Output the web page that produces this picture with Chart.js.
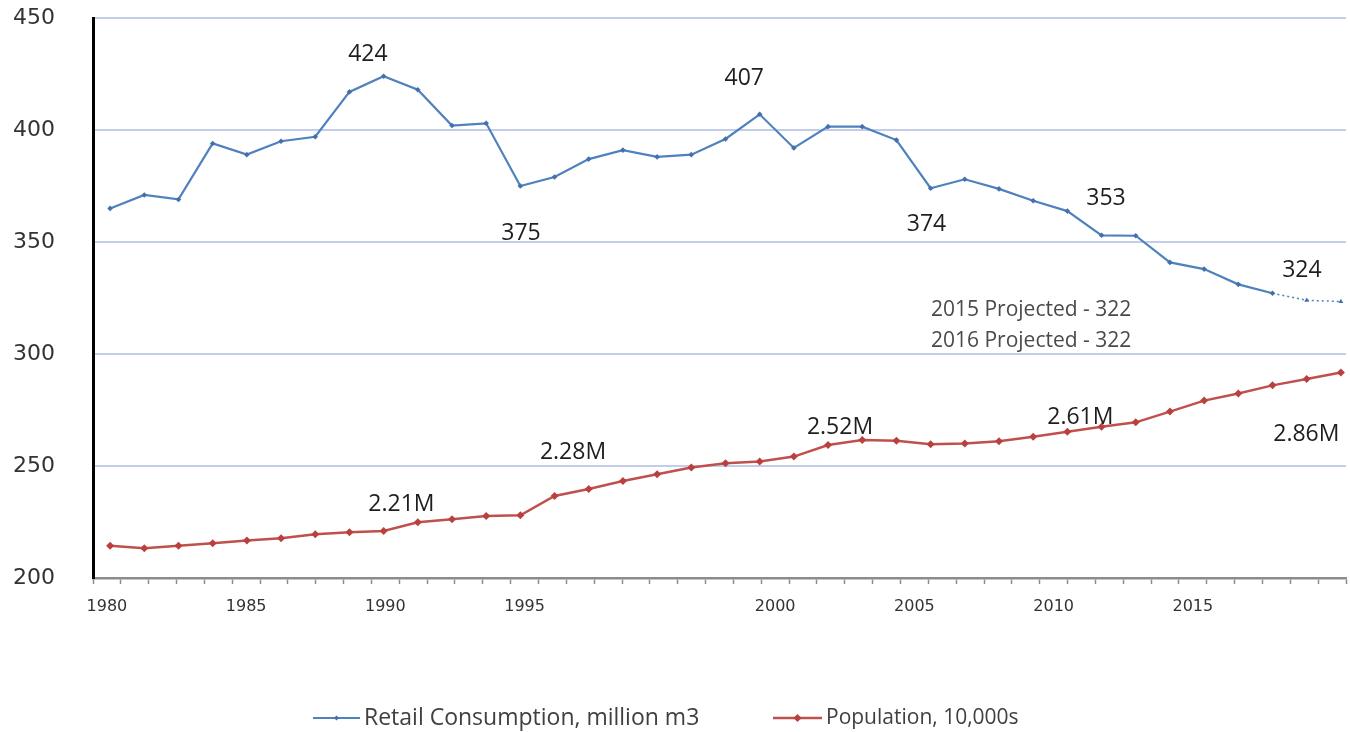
<!DOCTYPE html>
<html>
<head>
<meta charset="utf-8">
<title>Retail Consumption and Population, 1980-2016</title>
<script src="https://cdn.jsdelivr.net/npm/chart.js@4.4.1/dist/chart.umd.min.js"></script>
<style>
  html, body { margin: 0; padding: 0; background: #ffffff; overflow: hidden; }
  #wrap { width: 1350px; height: 732px; }
</style>
</head>
<body>
<div id="wrap"><canvas id="chart" width="1350" height="732"></canvas></div>
<script>
// ---- data ----
const years = [1980, 1981, 1982, 1983, 1984, 1985, 1986, 1987, 1988, 1989,
               1990, 1991, 1992, 1993, 1994, 1995, 1996, 1997, 1998, 1999,
               2000, 2001, 2002, 2003, 2004, 2005, 2006, 2007, 2008, 2009,
               2010, 2011, 2012, 2013, 2014, 2015, 2016];

// retail water consumption, million m3 (2015-2016 projected)
const consumption = [365, 371, 369, 394, 389, 395, 397, 417, 424, 418,
                     402, 403, 375, 379, 387, 391, 388, 389, 396, 407,
                     392, 401.5, 401.5, 395.5, 374, 378, 373.7, 368.4, 363.8, 353,
                     352.8, 340.9, 337.9, 331.1, 327.1, 324, 323.4];

// population, in 10,000s
const population = [214.4, 213.3, 214.4, 215.5, 216.7, 217.7, 219.5, 220.4, 221, 224.9,
                     226.2, 227.7, 228, 236.6, 239.7, 243.3, 246.3, 249.3, 251.2, 252,
                     254.2, 259.4, 261.6, 261.3, 259.7, 260.1, 261, 263.1, 265.3, 267.5,
                     269.5, 274.3, 279.2, 282.4, 286, 288.8, 291.7];

const seriesNames = ['Retail Consumption, million m3', 'Population, 10,000s'];

// category labels along the bottom axis (45 slots, labelled every few slots)
const axisYearLabels = ['1980', '', '', '', '', '1985', '', '', '', '',
                        '1990', '', '', '', '', '1995', '', '', '', '',
                        '', '', '', '', '2000', '', '', '', '', '2005',
                        '', '', '', '', '2010', '', '', '', '', '2015',
                        '', '', '', '', ''];

const valueTicks = [200, 250, 300, 350, 400, 450];

// first projected point of the consumption series
const projectedFrom = 35;

// value call-outs: which point they state, and where the text sits (year, value units)
const valueNotes = [
  { series: 0, index: 8,  at: [1987.54, 433.9] },
  { series: 0, index: 12, at: [1992.02, 353.6] },
  { series: 0, index: 19, at: [1998.55, 423.2] },
  { series: 0, index: 24, at: [2003.88, 358.0] },
  { series: 0, index: 29, at: [2009.13, 369.4] },
  { series: 0, index: 35, at: [2014.86, 337.5] },
  { series: 1, index: 8,  at: [1988.52, 233.0] },
  { series: 1, index: 12, at: [1993.54, 256.0] },
  { series: 1, index: 19, at: [2001.35, 267.0] },
  { series: 1, index: 26, at: [2008.38, 271.7] },
  { series: 1, index: 34, at: [2014.99, 264.3] }
];

const projectionNotes = [
  { text: '2015 Projected - 322', at: [2004.01, 319.6] },
  { text: '2016 Projected - 322', at: [2004.01, 306.0] }
];

// ---- styling ----
const BLUE = '#4F81BD';
const BLUE_MARK = '#4470AD';
const RED = '#C0504D';
const RED_MARK = '#B9403D';
const GRID = '#C3CCEA';
const TEXT = '#404040';
const LABEL = '#1E1E1E';

const seriesFormat = [
  v => String(Math.round(v)),
  v => (v / 100).toFixed(2) + 'M'
];

function points(values) {
  return values.map((v, i) => ({ x: years[i], y: v }));
}

// call-out text drawn in axis units through the chart's own scales
const notesPlugin = {
  id: 'notes',
  afterDatasetsDraw(chart) {
    const { ctx } = chart;
    const sx = chart.scales.xData, sy = chart.scales.y;
    const seriesData = [consumption, population];
    ctx.save();
    ctx.textBaseline = 'middle';
    ctx.textAlign = 'center';
    ctx.fillStyle = LABEL;
    ctx.font = '23px "Open Sans", sans-serif';
    valueNotes.forEach(n => {
      const text = seriesFormat[n.series](seriesData[n.series][n.index]);
      ctx.fillText(text, sx.getPixelForValue(n.at[0]), sy.getPixelForValue(n.at[1]));
    });
    ctx.textAlign = 'left';
    ctx.fillStyle = '#4A4A4A';
    ctx.font = '21px "Open Sans", sans-serif';
    projectionNotes.forEach(n => {
      ctx.fillText(n.text, sx.getPixelForValue(n.at[0]), sy.getPixelForValue(n.at[1]));
    });
    ctx.restore();
  }
};

function drawDiamond(ctx, x, y, r, color) {
  ctx.beginPath();
  ctx.moveTo(x, y - r);
  ctx.lineTo(x + r, y);
  ctx.lineTo(x, y + r);
  ctx.lineTo(x - r, y);
  ctx.closePath();
  ctx.fillStyle = color;
  ctx.fill();
}

// legend row under the axis: line sample with marker, then series name
const legendPlugin = {
  id: 'lineLegend',
  afterDraw(chart) {
    const { ctx } = chart;
    const rowY = 718;
    const entries = [
      { x: 313, len: 47, color: BLUE, width: 2, mark: BLUE_MARK, r: 2.5, name: seriesNames[0] },
      { x: 773, len: 49, color: RED, width: 2.5, mark: RED_MARK, r: 4, name: seriesNames[1] }
    ];
    ctx.save();
    ctx.textBaseline = 'middle';
    ctx.textAlign = 'left';
    entries.forEach((e, i) => {
      ctx.beginPath();
      ctx.moveTo(e.x, rowY);
      ctx.lineTo(e.x + e.len, rowY);
      ctx.strokeStyle = e.color;
      ctx.lineWidth = e.width;
      ctx.stroke();
      drawDiamond(ctx, e.x + e.len / 2, rowY, e.r, e.mark);
      ctx.font = (i === 0 ? '23px' : '21px') + ' "Open Sans", sans-serif';
      ctx.fillStyle = TEXT;
      ctx.fillText(e.name, e.x + e.len + 4, rowY);
    });
    ctx.restore();
  }
};

new Chart(document.getElementById('chart'), {
  type: 'line',
  data: {
    datasets: [
      {
        label: seriesNames[0],
        data: points(consumption),
        xAxisID: 'xData',
        yAxisID: 'y',
        borderColor: BLUE,
        borderWidth: 2.2,
        pointStyle: ctx => ctx.dataIndex >= projectedFrom ? 'triangle' : 'rectRot',
        pointRadius: 2.8,
        pointBackgroundColor: BLUE_MARK,
        pointBorderColor: BLUE_MARK,
        pointBorderWidth: 0,
        tension: 0,
        segment: {
          borderDash: ctx => ctx.p1DataIndex >= projectedFrom ? [2, 3] : undefined,
          borderWidth: ctx => ctx.p1DataIndex >= projectedFrom ? 1.5 : 2.2
        }
      },
      {
        label: seriesNames[1],
        data: points(population),
        xAxisID: 'xData',
        yAxisID: 'y',
        borderColor: RED,
        borderWidth: 2.5,
        pointStyle: 'rectRot',
        pointRadius: 4,
        pointBackgroundColor: RED_MARK,
        pointBorderColor: RED_MARK,
        pointBorderWidth: 0,
        tension: 0
      }
    ]
  },
  options: {
    responsive: false,
    animation: false,
    events: [],
    layout: { padding: { left: 13, top: 18, right: 1, bottom: 0 } },
    plugins: {
      legend: { display: false },
      tooltip: { enabled: false },
      title: { display: false }
    },
    scales: {
      x: {
        type: 'category',
        labels: axisYearLabels,
        position: 'bottom',
        offset: true,
        grid: {
          offset: true,
          drawOnChartArea: false,
          drawTicks: true,
          tickLength: 6,
          tickWidth: 1.5,
          tickColor: '#8C8C8C'
        },
        border: { display: true, color: '#8C8C8C', width: 2.5 },
        ticks: {
          autoSkip: false,
          maxRotation: 0,
          minRotation: 0,
          padding: 13,
          color: '#333333',
          font: { family: '"DejaVu Sans", sans-serif', size: 16 }
        },
        afterFit: scale => { scale.height = 154; }
      },
      xData: {
        type: 'linear',
        display: false,
        min: 1979.5,
        max: 2016.15
      },
      y: {
        type: 'linear',
        position: 'left',
        min: 200,
        max: 450,
        afterBuildTicks: scale => { scale.ticks = valueTicks.map(v => ({ value: v })); },
        grid: {
          drawTicks: false,
          color: ctx => ctx.tick && ctx.tick.value === 200 ? 'rgba(0,0,0,0)' : GRID,
          lineWidth: 2
        },
        border: { display: true, color: '#000000', width: 3 },
        ticks: {
          crossAlign: 'far',
          padding: 0,
          color: '#333333',
          font: { family: '"DejaVu Sans", sans-serif', size: 22 }
        },
        afterFit: scale => { scale.width = 80; }
      }
    }
  },
  plugins: [notesPlugin, legendPlugin]
});
</script>
</body>
</html>
